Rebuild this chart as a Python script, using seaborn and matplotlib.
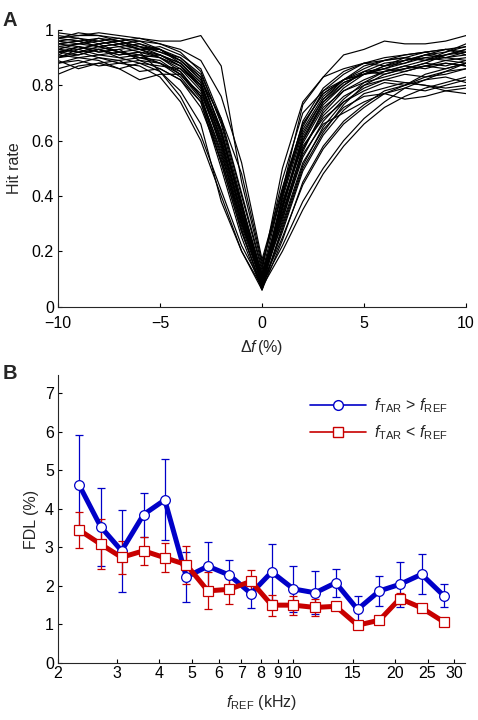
import numpy as np
import pandas as pd
import matplotlib
matplotlib.use("Agg")
import matplotlib.pyplot as plt
from matplotlib.lines import Line2D
from matplotlib.ticker import FixedLocator, FixedFormatter, NullLocator
import seaborn as sns

# ---------------- Panel A data ----------------
delta_f = [-10, -9, -8, -7, -6, -5, -4, -3, -2, -1, 0, 1, 2, 3, 4, 5, 6, 7, 8, 9, 10]
hit_curves = [
    [0.97,0.98,0.98,0.97,0.96,0.95,0.92,0.85,0.66,0.38,0.08,0.36,0.62,0.75,0.82,0.86,0.89,0.90,0.92,0.93,0.94],
    [0.95,0.96,0.94,0.95,0.93,0.91,0.88,0.81,0.60,0.33,0.07,0.40,0.65,0.78,0.84,0.88,0.90,0.91,0.92,0.90,0.91],
    [0.92,0.93,0.95,0.92,0.90,0.91,0.87,0.79,0.57,0.30,0.09,0.33,0.57,0.70,0.78,0.82,0.85,0.87,0.86,0.88,0.87],
    [0.88,0.90,0.89,0.86,0.88,0.87,0.86,0.80,0.63,0.37,0.12,0.42,0.66,0.77,0.82,0.85,0.84,0.86,0.88,0.87,0.89],
    [0.84,0.87,0.88,0.86,0.82,0.84,0.84,0.76,0.55,0.31,0.10,0.30,0.52,0.64,0.72,0.76,0.77,0.75,0.76,0.78,0.79],
    [0.99,0.98,0.99,0.98,0.97,0.96,0.96,0.98,0.87,0.45,0.15,0.42,0.73,0.83,0.91,0.93,0.96,0.95,0.95,0.96,0.98],
    [0.91,0.94,0.92,0.93,0.89,0.88,0.85,0.76,0.52,0.27,0.07,0.28,0.50,0.63,0.73,0.80,0.84,0.86,0.88,0.91,0.92],
    [0.93,0.92,0.93,0.90,0.91,0.88,0.83,0.74,0.50,0.25,0.06,0.35,0.60,0.74,0.80,0.85,0.86,0.89,0.90,0.91,0.93],
    [0.96,0.97,0.95,0.96,0.94,0.93,0.89,0.82,0.64,0.36,0.11,0.38,0.58,0.68,0.74,0.78,0.81,0.80,0.82,0.83,0.81],
    [0.90,0.91,0.93,0.91,0.92,0.85,0.76,0.62,0.42,0.22,0.08,0.25,0.44,0.57,0.66,0.72,0.77,0.80,0.83,0.85,0.86],
    [0.94,0.95,0.96,0.94,0.95,0.92,0.90,0.84,0.67,0.40,0.13,0.50,0.74,0.83,0.86,0.88,0.87,0.88,0.90,0.89,0.90],
    [0.89,0.86,0.88,0.89,0.85,0.86,0.82,0.72,0.53,0.30,0.09,0.33,0.55,0.66,0.70,0.74,0.77,0.79,0.78,0.80,0.82],
    [0.97,0.96,0.97,0.95,0.93,0.94,0.91,0.86,0.68,0.41,0.14,0.46,0.70,0.78,0.82,0.84,0.86,0.88,0.91,0.92,0.95],
    [0.92,0.94,0.93,0.94,0.92,0.90,0.86,0.78,0.58,0.31,0.08,0.31,0.56,0.71,0.79,0.84,0.87,0.90,0.89,0.92,0.94],
    [0.95,0.94,0.92,0.93,0.94,0.91,0.87,0.80,0.61,0.34,0.10,0.36,0.59,0.72,0.78,0.81,0.83,0.85,0.87,0.86,0.88],
    [0.86,0.88,0.90,0.88,0.87,0.83,0.74,0.60,0.40,0.20,0.07,0.20,0.35,0.48,0.58,0.66,0.72,0.76,0.79,0.81,0.83],
    [0.98,0.97,0.96,0.97,0.95,0.93,0.90,0.83,0.63,0.35,0.09,0.39,0.63,0.75,0.81,0.84,0.85,0.86,0.87,0.89,0.88],
    [0.93,0.95,0.94,0.92,0.93,0.93,0.89,0.82,0.68,0.48,0.16,0.41,0.64,0.76,0.82,0.87,0.89,0.91,0.92,0.93,0.91],
    [0.91,0.90,0.91,0.92,0.90,0.89,0.84,0.75,0.54,0.28,0.06,0.29,0.51,0.65,0.74,0.79,0.82,0.84,0.83,0.84,0.86],
    [0.96,0.95,0.97,0.96,0.94,0.92,0.89,0.83,0.64,0.37,0.11,0.34,0.57,0.69,0.76,0.80,0.82,0.81,0.80,0.79,0.80],
    [0.90,0.92,0.90,0.89,0.90,0.88,0.84,0.77,0.59,0.33,0.12,0.36,0.60,0.73,0.80,0.85,0.88,0.89,0.91,0.93,0.92],
    [0.94,0.93,0.95,0.96,0.93,0.90,0.85,0.76,0.56,0.29,0.08,0.22,0.38,0.50,0.60,0.68,0.74,0.79,0.82,0.85,0.88],
    [0.92,0.91,0.93,0.91,0.92,0.91,0.88,0.81,0.62,0.36,0.10,0.40,0.67,0.79,0.85,0.88,0.89,0.90,0.89,0.91,0.93],
    [0.97,0.99,0.98,0.96,0.97,0.95,0.93,0.89,0.76,0.52,0.17,0.43,0.66,0.77,0.82,0.84,0.86,0.85,0.87,0.88,0.87],
    [0.88,0.89,0.87,0.88,0.89,0.86,0.82,0.74,0.52,0.27,0.07,0.27,0.49,0.62,0.71,0.77,0.79,0.81,0.80,0.78,0.77],
    [0.95,0.96,0.94,0.95,0.96,0.93,0.88,0.80,0.60,0.32,0.09,0.32,0.54,0.67,0.75,0.81,0.85,0.87,0.89,0.90,0.89],
    [0.93,0.92,0.94,0.92,0.91,0.90,0.87,0.79,0.59,0.33,0.10,0.37,0.61,0.74,0.81,0.84,0.87,0.89,0.91,0.90,0.92],
    [0.90,0.93,0.91,0.90,0.88,0.85,0.78,0.66,0.38,0.20,0.06,0.24,0.45,0.58,0.67,0.73,0.78,0.80,0.84,0.86,0.88],
]
a_xticks = [-10, -5, 0, 5, 10]
a_xticklabels = ["\u221210", "\u22125", "0", "5", "10"]
a_yticks = [0, 0.2, 0.4, 0.6, 0.8, 1.0]
a_yticklabels = ["0", "0.2", "0.4", "0.6", "0.8", "1"]

# ---------------- Panel B data ----------------
f_ref = [2.31, 2.68, 3.09, 3.59, 4.15, 4.81, 5.57, 6.45, 7.48, 8.62,
         10.0, 11.6, 13.35, 15.5, 18.0, 20.7, 24.0, 27.9]
fdl_up = [4.62, 3.53, 2.91, 3.85, 4.23, 2.23, 2.51, 2.28, 1.80, 2.36,
          1.92, 1.82, 2.08, 1.39, 1.87, 2.04, 2.30, 1.75]
err_up = [1.30, 1.02, 1.06, 0.57, 1.05, 0.65, 0.62, 0.39, 0.37, 0.72,
          0.59, 0.56, 0.36, 0.35, 0.38, 0.58, 0.52, 0.30]
fdl_down = [3.45, 3.08, 2.74, 2.91, 2.73, 2.55, 1.87, 1.91, 2.12, 1.50,
            1.50, 1.44, 1.47, 0.98, 1.11, 1.67, 1.43, 1.07]
err_down = [0.46, 0.65, 0.43, 0.36, 0.37, 0.49, 0.48, 0.39, 0.28, 0.27,
            0.25, 0.22, 0.10, 0.05, 0.07, 0.15, 0.11, 0.06]
b_xticks = [2, 3, 4, 5, 6, 7, 8, 9, 10, 15, 20, 25, 30]
b_xticklabels = ["2", "3", "4", "5", "6", "7", "8", "9", "10", "15", "20", "25", "30"]
b_yticks = [0, 1, 2, 3, 4, 5, 6, 7]
b_yticklabels = ["0", "1", "2", "3", "4", "5", "6", "7"]
legend_labels = [r"$f_{\mathrm{TAR}}$ > $f_{\mathrm{REF}}$",
                 r"$f_{\mathrm{TAR}}$ < $f_{\mathrm{REF}}$"]

BLUE = "#0000c8"
RED = "#c80000"

sns.set_style("ticks")
plt.rcParams["font.family"] = ["Liberation Sans", "DejaVu Sans"]
plt.rcParams["mathtext.fontset"] = "custom"
plt.rcParams["mathtext.rm"] = "Liberation Sans"
plt.rcParams["mathtext.it"] = "Liberation Sans:italic"
plt.rcParams["mathtext.bf"] = "Liberation Sans:bold"
plt.rcParams["xtick.direction"] = "in"
plt.rcParams["ytick.direction"] = "in"
plt.rcParams["axes.linewidth"] = 0.8
FS = 11.5

fig = plt.figure(figsize=(4.78, 7.2), dpi=100)
axA = fig.add_axes([0.1213, 0.5743, 0.975 - 0.1213, 0.9583 - 0.5743])
axB = fig.add_axes([0.1213, 0.0792, 0.9728 - 0.1213, 0.4792 - 0.0792])

# ---- Panel A ----
rows = []
for ci, curve in enumerate(hit_curves):
    for xv, yv in zip(delta_f, curve):
        rows.append({"df": xv, "rate": yv, "curve": ci})
dfA = pd.DataFrame(rows)
sns.lineplot(data=dfA, x="df", y="rate", units="curve", estimator=None,
             color="black", lw=0.85, ax=axA, legend=False)
axA.set_xlim(-10, 10)
axA.set_ylim(0, 1.0)
axA.set_xticks(a_xticks)
axA.set_xticklabels(a_xticklabels)
axA.set_yticks(a_yticks)
axA.set_yticklabels(a_yticklabels)
axA.set_xlabel(r"$\Delta \mathit{f}\,$(%)", fontsize=FS, labelpad=5)
axA.set_ylabel("Hit rate", fontsize=FS, labelpad=7)

# ---- Panel B ----
dfB = pd.DataFrame({"freq": f_ref * 2,
                    "fdl": fdl_up + fdl_down,
                    "err": err_up + err_down,
                    "cond": ["up"] * len(f_ref) + ["down"] * len(f_ref)})
for cond, col in (("up", BLUE), ("down", RED)):
    sub = dfB[dfB["cond"] == cond]
    axB.errorbar(sub["freq"], sub["fdl"], yerr=sub["err"], fmt="none",
                 ecolor=col, elinewidth=0.9, capsize=2.6, capthick=0.9, zorder=1)
sns.lineplot(data=dfB[dfB["cond"] == "up"], x="freq", y="fdl", color=BLUE,
             lw=3.6, marker="o", markersize=7, markerfacecolor="white",
             markeredgecolor=BLUE, markeredgewidth=0.9, ax=axB, zorder=3,
             legend=False)
sns.lineplot(data=dfB[dfB["cond"] == "down"], x="freq", y="fdl", color=RED,
             lw=3.6, marker="s", markersize=7, markerfacecolor="white",
             markeredgecolor=RED, markeredgewidth=0.9, ax=axB, zorder=4,
             legend=False)
axB.set_xscale("log")
axB.set_xlim(2, 32.3)
axB.set_ylim(0, 7.47)
axB.xaxis.set_major_locator(FixedLocator(b_xticks))
axB.xaxis.set_major_formatter(FixedFormatter(b_xticklabels))
axB.xaxis.set_minor_locator(NullLocator())
axB.set_yticks(b_yticks)
axB.set_yticklabels(b_yticklabels)
axB.set_xlabel(r"$\mathit{f}_{\mathrm{REF}}$ (kHz)", fontsize=FS, labelpad=8)
axB.set_ylabel("FDL (%)", fontsize=FS, labelpad=4)

handles = [Line2D([], [], color=BLUE, lw=1.2, marker="o", markersize=7,
                  markerfacecolor="white", markeredgecolor=BLUE),
           Line2D([], [], color=RED, lw=1.2, marker="s", markersize=7,
                  markerfacecolor="white", markeredgecolor=RED)]
axB.legend(handles, legend_labels, loc="upper right", bbox_to_anchor=(0.985, 0.965),
           frameon=False, fontsize=FS, handlelength=3.5, handletextpad=0.5,
           labelspacing=0.55, borderaxespad=0.3)

for ax in (axA, axB):
    sns.despine(ax=ax)
    ax.tick_params(axis="both", labelsize=FS, length=3, width=0.8, color="black",
                   labelcolor="black", pad=3)
axA.tick_params(axis="x", pad=7)
axB.tick_params(axis="x", pad=2.5)

fig.text(0.006, 0.985, "A", fontsize=14.5, fontweight="bold", va="top", ha="left")
fig.text(0.006, 0.494, "B", fontsize=14.5, fontweight="bold", va="top", ha="left")

fig.savefig("out.png", dpi=100)
